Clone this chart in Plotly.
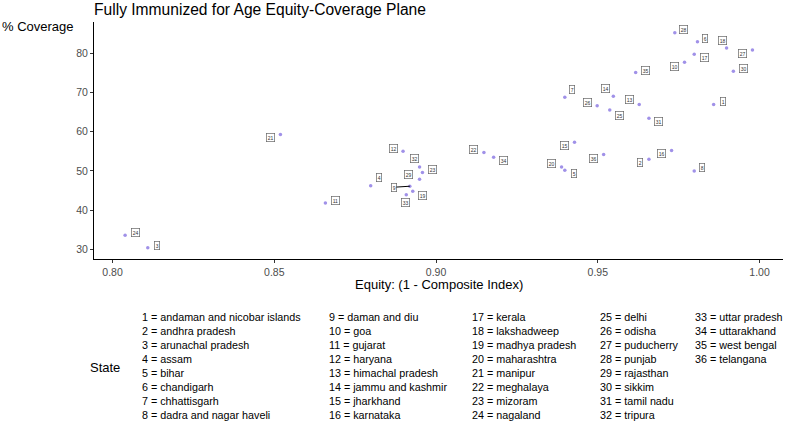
import plotly.graph_objects as go

# ---- data ----
state_ids = list(range(1, 37))
state_names = [
    "andaman and nicobar islands", "andhra pradesh", "arunachal pradesh", "assam",
    "bihar", "chandigarh", "chhattisgarh", "dadra and nagar haveli",
    "daman and diu", "goa", "gujarat", "haryana",
    "himachal pradesh", "jammu and kashmir", "jharkhand", "karnataka",
    "kerala", "lakshadweep", "madhya pradesh", "maharashtra",
    "manipur", "meghalaya", "mizoram", "nagaland",
    "delhi", "odisha", "puducherry", "punjab",
    "rajasthan", "sikkim", "tamil nadu", "tripura",
    "uttar pradesh", "uttarakhand", "west bengal", "telangana",
]
equity = [
    0.9858, 0.9658, 0.8109, 0.8798, 0.9398, 0.9808, 0.9398, 0.9798,
    0.8919, 0.9768, 0.8658, 0.8898, 0.9628, 0.9548, 0.9428, 0.9728,
    0.9798, 0.9898, 0.8928, 0.9388, 0.8519, 0.9148, 0.8958, 0.8039,
    0.9537, 0.9498, 0.9978, 0.9738, 0.8949, 0.9919, 0.9658, 0.8949,
    0.8908, 0.9178, 0.9617, 0.9518,
]
coverage = [
    66.9, 53.0, 30.4, 46.2, 50.2, 82.9, 68.8, 50.0,
    46.1, 77.7, 41.8, 55.0, 66.9, 69.0, 57.3, 55.2,
    79.7, 81.3, 44.8, 51.0, 59.3, 54.7, 49.6, 33.6,
    65.5, 66.6, 80.8, 85.2, 47.9, 75.4, 63.4, 51.0,
    43.9, 53.5, 75.1, 54.2,
]
x_ticks = [0.80, 0.85, 0.90, 0.95, 1.00]
y_ticks = [30, 40, 50, 60, 70, 80]

# ---- label placement (pixel offsets, layout only) ----
label_offsets = {
    1: (9, -3), 2: (-9, 3), 3: (9, -2), 4: (8, -8), 5: (9, 3), 6: (8, -3),
    7: (7, -8), 8: (8, -3), 9: (-16, 1), 10: (-10, 4), 11: (10, -3), 12: (-10, -3),
    13: (-10, -5), 14: (-8, -8), 15: (-10, 3), 16: (-10, 3), 17: (10, 3), 18: (-4, -8),
    19: (10, 4), 20: (-10, -3), 21: (-10, 3), 22: (-10, -3), 23: (10, -3), 24: (10, -3),
    25: (10, 5), 26: (-10, -3), 27: (-10, 3), 28: (9, -3), 29: (-11, -5), 30: (10, -3),
    31: (10, 3), 32: (-5, -8), 33: (-1, 8), 34: (10, 3), 35: (10, -2), 36: (-10, 4),
}

W, H = 789, 424
L, R, T, B = 94, 789 - 782.7, 22, 424 - 259.3
PW, PH = W - L - R, H - T - B

def px(x):
    return (x - L) / PW

def py(y):
    return (H - B - y) / PH

FONT = "Liberation Sans, Arial, Helvetica, sans-serif"

fig = go.Figure()
fig.add_trace(go.Scatter(
    x=equity, y=coverage, mode="markers",
    marker=dict(size=3.5, color="#a091e8"),
    text=[f"{i} = {n}" for i, n in zip(state_ids, state_names)],
    hoverinfo="text", showlegend=False,
))

annotations = []
for i, xv, yv in zip(state_ids, equity, coverage):
    ax, ay = label_offsets[i]
    annotations.append(dict(
        x=xv, y=yv, xref="x", yref="y", text=str(i),
        showarrow=True, ax=ax, ay=ay, axref="pixel", ayref="pixel",
        arrowhead=0, arrowwidth=1,
        arrowcolor="black" if i == 9 else "rgba(0,0,0,0)",
        font=dict(size=5, color="#333333", family=FONT),
        bgcolor="white", bordercolor="#666666", borderwidth=0.7, borderpad=1,
    ))

# titles
annotations.append(dict(x=px(92), y=py(9), xref="paper", yref="paper",
                        text="Fully Immunized for Age Equity-Coverage Plane",
                        showarrow=False, xanchor="left", yanchor="middle",
                        font=dict(size=15.6, color="black", family=FONT)))
annotations.append(dict(x=px(0.5), y=py(27), xref="paper", yref="paper",
                        text="% Coverage", showarrow=False, xanchor="left", yanchor="middle",
                        font=dict(size=13, color="black", family=FONT)))
annotations.append(dict(x=0.5, y=py(284.5), xref="paper", yref="paper",
                        text="Equity: (1 - Composite Index)", showarrow=False,
                        xanchor="center", yanchor="middle", borderpad=0,
                        font=dict(size=13, color="black", family=FONT)))

# legend (as text)
annotations.append(dict(x=px(88), y=py(368), xref="paper", yref="paper",
                        text="State", showarrow=False, xanchor="left", yanchor="middle",
                        font=dict(size=13, color="black", family=FONT)))
col_x = [140, 327, 470, 598, 693]
for k, (i, n) in enumerate(zip(state_ids, state_names)):
    c, r = divmod(k, 8)
    annotations.append(dict(x=px(col_x[c]), y=py(317 + r * 14.1), xref="paper", yref="paper",
                            text=f"{i} = {n}", showarrow=False,
                            xanchor="left", yanchor="middle",
                            font=dict(size=10.75, color="black", family=FONT)))

fig.update_layout(
    width=W, height=H,
    margin=dict(l=L, r=R, t=T, b=B),
    paper_bgcolor="white", plot_bgcolor="white",
    font=dict(family=FONT),
    annotations=annotations,
    xaxis=dict(range=[0.79428, 1.00724], tickvals=x_ticks, tickformat=".2f",
               showgrid=False, zeroline=False, showline=True, linecolor="black",
               linewidth=1, ticks="outside", ticklen=3, tickcolor="#333333",
               tickfont=dict(size=10.5, color="#4d4d4d", family=FONT)),
    yaxis=dict(range=[27.56, 87.94], tickvals=y_ticks,
               showgrid=False, zeroline=False, showline=True, linecolor="black",
               linewidth=1, ticks="outside", ticklen=3, tickcolor="#333333",
               tickfont=dict(size=10.5, color="#4d4d4d", family=FONT)),
)

fig.write_html("out.html", config={"displayModeBar": False},
               post_script="document.body.style.margin='0';document.body.style.overflow='hidden';")
